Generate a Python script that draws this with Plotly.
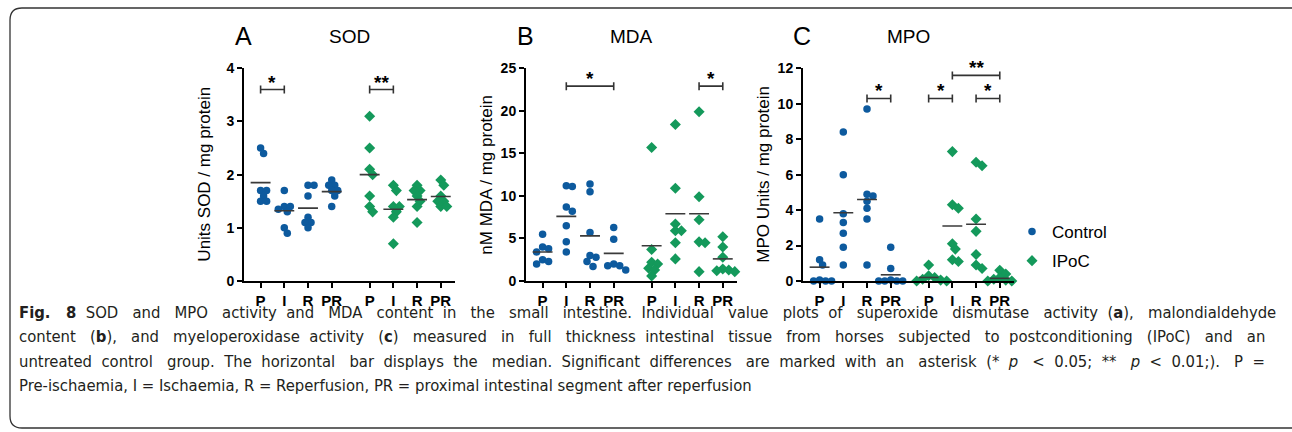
import numpy as np
import plotly.graph_objects as go

W, H = 1292, 432

# ---------------- data ----------------
categories = ["P", "I", "R", "PR"]
groups = ["Control", "IPoC"]
tick_labels = ["P", "I", "R", "PR", "P", "I", "R", "PR"]
cat_positions = [0, 1, 2, 3, 4.6, 5.6, 6.6, 7.6]

# SOD (Units SOD / mg protein)
sod_control = [
    [2.5, 2.4, 1.7, 1.7, 1.6, 1.5, 1.5],
    [1.7, 1.4, 1.4, 1.35, 1.3, 1.0, 0.9],
    [1.8, 1.8, 1.6, 1.2, 1.1, 1.1, 1.0],
    [1.9, 1.8, 1.8, 1.7, 1.7, 1.6, 1.4],
]
sod_ipoc = [
    [3.1, 2.5, 2.1, 2.0, 1.6, 1.4, 1.3],
    [1.8, 1.7, 1.4, 1.4, 1.3, 1.2, 0.7],
    [1.8, 1.7, 1.7, 1.6, 1.5, 1.4, 1.1],
    [1.9, 1.8, 1.6, 1.5, 1.5, 1.4, 1.4],
]
sod_median_control = [1.85, 1.32, 1.37, 1.68]
sod_median_ipoc = [2.0, 1.35, 1.53, 1.59]

# MDA (nM MDA / mg protein)
mda_control = [
    [5.5, 4.0, 3.8, 3.4, 2.5, 2.3, 2.0],
    [11.2, 11.1, 8.7, 8.2, 6.5, 4.6, 3.4],
    [11.4, 10.5, 5.7, 3.0, 2.8, 2.3, 1.7],
    [6.3, 4.9, 2.0, 1.8, 1.8, 1.3],
]
mda_ipoc = [
    [15.7, 3.7, 2.2, 2.0, 1.5, 1.3, 0.6],
    [18.4, 10.9, 6.7, 5.9, 5.9, 4.5, 2.6],
    [19.9, 9.9, 7.2, 4.6, 4.5, 1.1],
    [5.2, 4.0, 2.8, 1.4, 1.3, 1.2, 1.1],
]
mda_median_control = [3.4, 7.6, 5.3, 3.25]
mda_median_ipoc = [4.15, 7.9, 7.9, 2.6]

# MPO (MPO Units / mg protein)
mpo_control = [
    [3.5, 1.2, 0.9, 0.05, 0.0, 0.0, 0.0],
    [8.4, 6.0, 3.8, 3.3, 2.7, 1.9, 0.9],
    [9.7, 4.9, 4.8, 4.5, 4.1, 3.5, 0.9],
    [1.9, 0.7, 0.05, 0.0, 0.0, 0.0, 0.0],
]
mpo_ipoc = [
    [0.9, 0.3, 0.2, 0.1, 0.05, 0.0, 0.0],
    [7.3, 4.3, 4.1, 2.1, 1.8, 1.2, 1.1],
    [6.7, 6.5, 3.5, 2.8, 1.5, 0.9, 0.7],
    [0.6, 0.4, 0.2, 0.1, 0.05, 0.0, 0.0],
]
mpo_median_control = [0.78, 3.85, 4.6, 0.35]
mpo_median_ipoc = [0.2, 3.1, 3.2, 0.15]

# significance brackets: (from index, to index, level, label)
sod_brackets = [(0, 1, 3.6, "*"), (4, 5, 3.6, "**")]
mda_brackets = [(1, 3, 22.9, "*"), (6, 7, 22.9, "*")]
mpo_brackets = [(2, 3, 10.3, "*"), (4, 5, 10.3, "*"), (6, 7, 10.3, "*"), (5, 7, 11.6, "**")]

panels = [
    dict(letter="A", title="SOD", ytitle="Units SOD / mg protein",
         control=sod_control, ipoc=sod_ipoc, medc=sod_median_control, medi=sod_median_ipoc,
         yrange=[0, 4], dtick=1, brackets=sod_brackets),
    dict(letter="B", title="MDA", ytitle="nM MDA / mg protein",
         control=mda_control, ipoc=mda_ipoc, medc=mda_median_control, medi=mda_median_ipoc,
         yrange=[0, 25], dtick=5, brackets=mda_brackets),
    dict(letter="C", title="MPO", ytitle="MPO Units / mg protein",
         control=mpo_control, ipoc=mpo_ipoc, medc=mpo_median_control, medi=mpo_median_ipoc,
         yrange=[0, 12], dtick=2, brackets=mpo_brackets),
]

caption_lines = [
    "<b>Fig. 8</b> SOD and MPO activity and MDA content in the small intestine. Individual value plots of superoxide dismutase activity (<b>a</b>), malondialdehyde",
    "content (<b>b</b>), and myeloperoxidase activity (<b>c</b>) measured in full thickness intestinal tissue from horses subjected to postconditioning (IPoC) and an",
    "untreated control group. The horizontal bar displays the median. Significant differences are marked with an asterisk (* <i>p</i> &lt; 0.05; ** <i>p</i> &lt; 0.01;). P =",
    "Pre-ischaemia, I = Ischaemia, R = Reperfusion, PR = proximal intestinal segment after reperfusion",
]

# ---------------- layout geometry / style ----------------
FONT = "Liberation Sans, Arial, sans-serif"
CAPFONT = "Liberation Sans Narrow, DejaVu Sans Condensed, sans-serif"
CAPSIZE = 16.5
BLUE = "#0d5a9e"
GREEN = "#14995b"
MED = "#3a3a3a"
lefts = [244, 526, 803]
pw = 211
top_px, bot_px = 68.3, 281.0
xr = [-0.7, 8.2]
x_ppu = pw / (xr[1] - xr[0])
# extra pixels needed per caption line to emulate justified text
just_extra = [170, 165, 154, 0]
NBSP_PX = 0.286 * CAPSIZE


def justify(line, extra):
    words = line.split(" ")
    gaps = len(words) - 1
    if extra <= 0 or gaps <= 0:
        return line
    total = int(round(extra / NBSP_PX))
    out = words[0]
    acc = 0.0
    for gi, w in enumerate(words[1:]):
        target = total * (gi + 1) / gaps
        k = int(round(target - acc))
        acc += k
        out += " " + "\u00a0" * k + w
    return out


def swarm(values, y_ppu, diam=6.0):
    placed = []
    offs = [0.0] * len(values)
    order = sorted(range(len(values)), key=lambda i: -values[i])
    cands = [0.0]
    for s in range(1, 12):
        cands += [s * diam * 0.5, -s * diam * 0.5]
    for i in order:
        ypx = values[i] * y_ppu
        for c in cands:
            if all((c - px) ** 2 + (ypx - py) ** 2 >= diam ** 2 for px, py in placed):
                break
        placed.append((c, ypx))
        offs[i] = c / x_ppu
    return offs


def paper_x(pi, xval):
    return (lefts[pi] + (xval - xr[0]) * x_ppu) / W


fig = go.Figure()
shapes = []
annotations = []

for pi, p in enumerate(panels):
    sfx = "" if pi == 0 else str(pi + 1)
    xa, ya = "x" + sfx, "y" + sfx
    y_ppu = (bot_px - top_px) / (p["yrange"][1] - p["yrange"][0])
    for gi, (key, mkey, color, symbol, size, name) in enumerate([
        ("control", "medc", BLUE, "circle", 7.5, "Control"),
        ("ipoc", "medi", GREEN, "diamond", 8.5, "IPoC"),
    ]):
        xs, ys = [], []
        for ci, vals in enumerate(p[key]):
            pos = cat_positions[gi * 4 + ci]
            offs = swarm(vals, y_ppu)
            xs += [pos + o for o in offs]
            ys += list(vals)
        fig.add_trace(go.Scatter(
            x=xs, y=ys, mode="markers", xaxis=xa, yaxis=ya,
            marker=dict(color=color, symbol=symbol, size=size, line=dict(width=0)),
            name=name, showlegend=(pi == 0), legendgroup=name, cliponaxis=False))
        mx, my = [], []
        for ci, m in enumerate(p[mkey]):
            pos = cat_positions[gi * 4 + ci]
            mx += [pos - 0.42, pos + 0.42, None]
            my += [m, m, None]
        fig.add_trace(go.Scatter(
            x=mx, y=my, mode="lines", xaxis=xa, yaxis=ya, showlegend=False,
            line=dict(color=MED, width=1.6), hoverinfo="skip", cliponaxis=False))

    # brackets
    tick = 4.0 / y_ppu
    for a, b, lvl, lab in p["brackets"]:
        x1, x2 = cat_positions[a], cat_positions[b]
        lw = dict(color="#333333", width=1.6)
        shapes.append(dict(type="line", xref=xa, yref=ya, x0=x1, x1=x2, y0=lvl, y1=lvl, line=lw))
        shapes.append(dict(type="line", xref=xa, yref=ya, x0=x1, x1=x1, y0=lvl - tick, y1=lvl + tick, line=lw))
        shapes.append(dict(type="line", xref=xa, yref=ya, x0=x2, x1=x2, y0=lvl - tick, y1=lvl + tick, line=lw))
        lvl_px = bot_px - (lvl - p["yrange"][0]) * y_ppu
        annotations.append(dict(xref="paper", yref="paper",
                                x=(paper_x(pi, x1) + paper_x(pi, x2)) / 2,
                                y=1 - (lvl_px - 7.5) / H,
                                text="<b>%s</b>" % lab, showarrow=False,
                                font=dict(family=FONT, size=19, color="black"),
                                xanchor="center", yanchor="middle"))

    dom_x = [lefts[pi] / W, (lefts[pi] + pw) / W]
    dom_y = [1 - bot_px / H, 1 - top_px / H]
    axis_common = dict(showgrid=False, zeroline=False, showline=True, linecolor="black",
                       linewidth=2, ticks="outside", ticklen=5, tickwidth=2, tickcolor="black")
    fig.update_layout(**{
        "xaxis" + sfx: dict(domain=dom_x, range=xr, anchor=ya, tickvals=cat_positions,
                            ticktext=tick_labels,
                            tickfont=dict(family=FONT, size=15, color="black", weight="bold"),
                            **axis_common),
        "yaxis" + sfx: dict(domain=dom_y, range=p["yrange"], anchor=xa, dtick=p["dtick"],
                            tickfont=dict(family=FONT, size=14, color="black", weight="bold"),
                            **axis_common),
    })
    cx = lefts[pi] + pw / 2
    annotations.append(dict(xref="paper", yref="paper", x=(lefts[pi] - 1) / W, y=1 - 36 / H,
                            text=p["letter"], showarrow=False, xanchor="center", yanchor="middle",
                            font=dict(family=FONT, size=25, color="black")))
    annotations.append(dict(xref="paper", yref="paper", x=cx / W, y=1 - 36.5 / H,
                            text=p["title"], showarrow=False, xanchor="center", yanchor="middle",
                            font=dict(family=FONT, size=19, color="black")))
    annotations.append(dict(xref="paper", yref="paper", x=(lefts[pi] - 39) / W,
                            y=1 - (top_px + bot_px) / 2 / H,
                            text=p["ytitle"], showarrow=False, textangle=-90,
                            xanchor="center", yanchor="middle",
                            font=dict(family=FONT, size=17, color="black")))

for li, line in enumerate(caption_lines):
    annotations.append(dict(xref="paper", yref="paper", x=17 / W, y=1 - (312 + li * 24.5) / H,
                            text=justify(line, just_extra[li]), showarrow=False,
                            xanchor="left", yanchor="middle",
                            font=dict(family=CAPFONT, size=CAPSIZE, color="#231f20")))

# rounded frame
r = 12
x0, y0, x1, y1 = 10, 8, 1300, 428


def px(x, y):
    return "%f,%f" % (x / W, 1 - y / H)


path = ("M %s L %s L %s Q %s %s L %s Q %s %s L %s" % (
    px(x1, y1), px(x1, y0), px(x0 + r, y0),
    px(x0, y0), px(x0, y0 + r), px(x0, y1 - r), px(x0, y1), px(x0 + r, y1), px(x1, y1)))
shapes.append(dict(type="path", xref="paper", yref="paper", path=path,
                   line=dict(color="#333333", width=1.3)))

fig.update_layout(
    width=W, height=H, margin=dict(l=0, r=0, t=0, b=0, autoexpand=False),
    paper_bgcolor="white", plot_bgcolor="white",
    shapes=shapes, annotations=annotations,
    legend=dict(x=1012 / W, y=1 - 214 / H, xanchor="left", yanchor="top",
                font=dict(family=FONT, size=17, color="black"),
                bgcolor="rgba(0,0,0,0)", traceorder="grouped", tracegroupgap=4),
    showlegend=True,
)

fig.write_html("out.html", config={"displayModeBar": False},
               post_script="document.body.style.margin='0';document.body.style.overflow='hidden';"
                           "document.documentElement.style.overflow='hidden';")
